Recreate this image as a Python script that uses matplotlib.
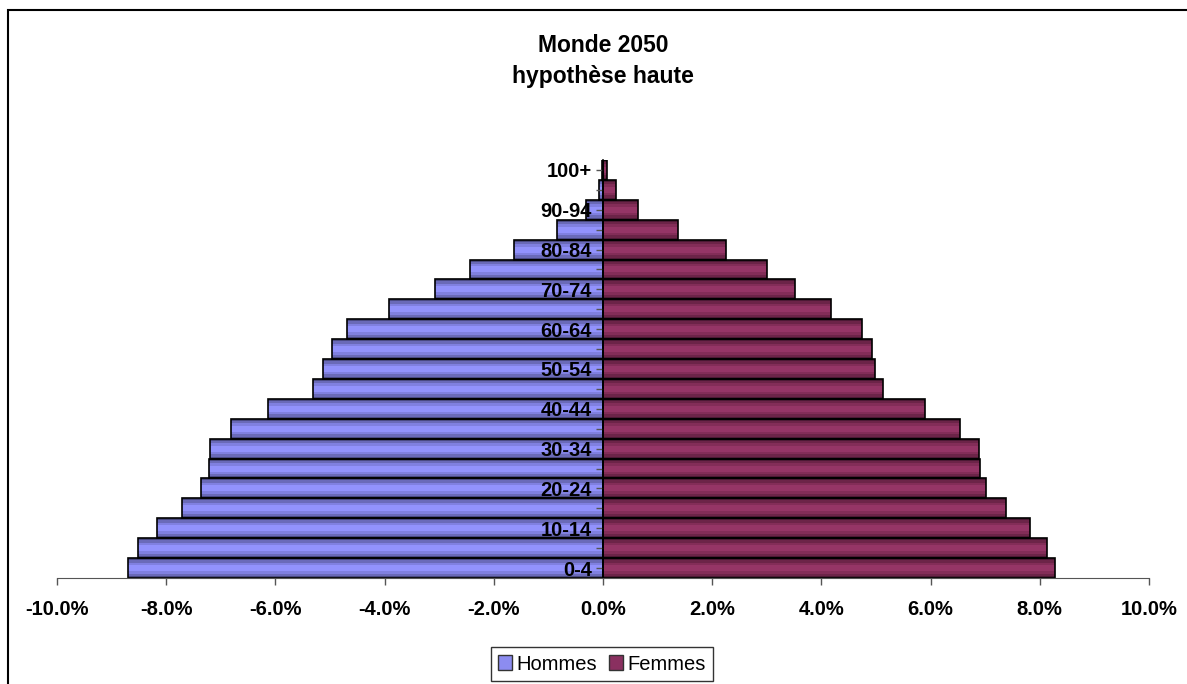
# Pyramide des ages - Monde 2050, hypothese haute

import numpy as np
import matplotlib.pyplot as plt
from matplotlib.patches import Patch, Rectangle

plt.rcParams['font.family'] = ['Liberation Sans', 'DejaVu Sans']

# Donnees (% de la population totale)
age_groups = ["0-4", "5-9", "10-14", "15-19", "20-24", "25-29", "30-34", "35-39",
              "40-44", "45-49", "50-54", "55-59", "60-64", "65-69", "70-74",
              "75-79", "80-84", "85-89", "90-94", "95-99", "100+"]
hommes = [8.70, 8.52, 8.17, 7.71, 7.36, 7.22, 7.19, 6.81, 6.14, 5.32, 5.12,
          4.97, 4.68, 3.92, 3.08, 2.44, 1.63, 0.85, 0.31, 0.08, 0.02]
femmes = [8.28, 8.14, 7.82, 7.38, 7.02, 6.91, 6.88, 6.53, 5.89, 5.13, 4.99,
          4.93, 4.75, 4.17, 3.51, 3.01, 2.26, 1.38, 0.65, 0.24, 0.08]
x_ticks = [-10, -8, -6, -4, -2, 0, 2, 4, 6, 8, 10]

# bandes de couleur (foncee -> claire) pour imiter le degrade Excel
bleu = [(1.0, "#4a4a82"), (0.80, "#6a6ab8"), (0.55, "#8080e0"), (0.30, "#9292fc")]
bordeaux = [(1.0, "#4c1934"), (0.80, "#6c2448"), (0.55, "#832d58"), (0.30, "#953566")]

fig = plt.figure(figsize=(11.87, 6.84), dpi=100)
ax = fig.add_axes([57 / 1187, (684 - 578) / 684, (1149 - 57) / 1187, 418 / 684])

y = np.arange(len(age_groups))
h_vals = -np.array(hommes)
f_vals = np.array(femmes)

for k, (hgt, col) in enumerate(bleu):
    ax.barh(y, h_vals, height=hgt, color=col, linewidth=0, zorder=0.5 + 0.1 * k)
for k, (hgt, col) in enumerate(bordeaux):
    ax.barh(y, f_vals, height=hgt, color=col, linewidth=0, zorder=0.5 + 0.1 * k)
ax.barh(y, h_vals, height=1.0, facecolor="none", edgecolor="black", linewidth=1.2, zorder=1.2)
ax.barh(y, f_vals, height=1.0, facecolor="none", edgecolor="black", linewidth=1.2, zorder=1.2)

ax.set_xlim(-10, 10)
ax.set_ylim(-0.5, len(age_groups) - 0.5)

# axe des x
ax.set_xticks(x_ticks)
ax.set_xticklabels([f"{v:.1f}%" for v in x_ticks], fontsize=14.5, fontweight="bold")
ax.tick_params(axis="x", length=5, width=1, color="#555555", pad=11)

# axe des categories sur le zero
ax.spines["left"].set_position(("data", 0))
ax.spines["left"].set_linewidth(1.2)
ax.spines["bottom"].set_color("#555555")
ax.spines["right"].set_visible(False)
ax.spines["top"].set_visible(False)
ax.set_yticks(y)
ax.set_yticklabels([lab if i % 2 == 0 else "" for i, lab in enumerate(age_groups)],
                   fontsize=14.5, fontweight="bold")
ax.tick_params(axis="y", length=5, width=1, color="#555555", pad=3)

fig.text(0.508, 1 - 46 / 684, "Monde 2050", ha="center", va="center",
         fontsize=16.5, fontweight="bold")
fig.text(0.508, 1 - 77 / 684, "hypothèse haute", ha="center", va="center",
         fontsize=16.5, fontweight="bold")

handles = [Patch(facecolor="#8c8cf0", edgecolor="#333333", label="Hommes"),
           Patch(facecolor="#8a3060", edgecolor="#333333", label="Femmes")]
leg = fig.legend(handles=handles, loc="center", bbox_to_anchor=(0.507, 1 - 664 / 684),
                 bbox_transform=fig.transFigure, ncol=2, fontsize=14.5, frameon=True,
                 fancybox=False, edgecolor="black", handlelength=0.7, handleheight=0.7,
                 handletextpad=0.2, columnspacing=0.6, borderpad=0.35, borderaxespad=0)
leg.get_frame().set_linewidth(1.0)

# cadre du graphique
fig.patches.append(Rectangle((8 / 1187, -0.1), 1.2, 1 - 10 / 684 + 0.1,
                             transform=fig.transFigure, fill=False,
                             edgecolor="black", linewidth=1.5))

plt.savefig("out.png", dpi=100)
